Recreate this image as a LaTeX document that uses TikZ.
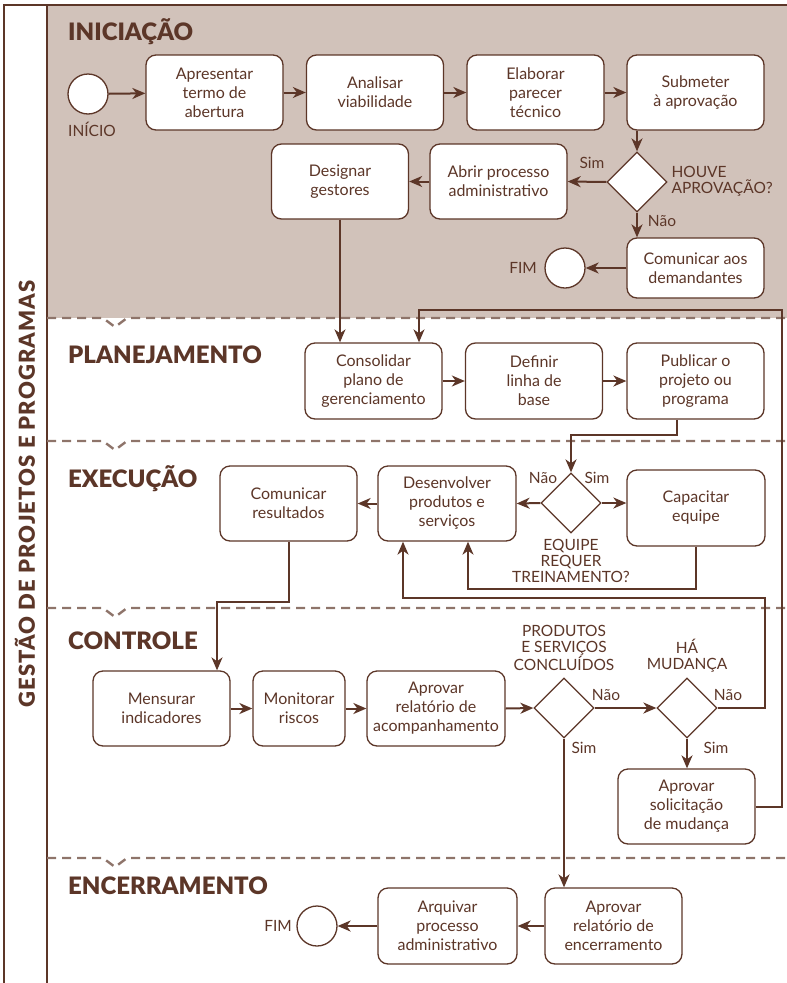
\documentclass[tikz,border=0pt]{standalone}
\usepackage{fontspec}
\setmainfont{Lato}
\newfontfamily\pesada{Lato Black}
\usetikzlibrary{arrows.meta,shapes.geometric}
\definecolor{marrom}{RGB}{92,54,40}
\definecolor{bege}{RGB}{209,194,186}
\definecolor{cinza}{RGB}{142,116,106}
\newcommand{\seta}[2]{\draw[fluxo] (#1) -- (#2);}
\newcommand{\divisa}[1]{\draw[cinza,line width=2.4,dash pattern=on 9 off 6] (47,#1) -- (103,#1) -- (115,#1+9) -- (127,#1) -- (787,#1);}

\begin{document}
\begin{tikzpicture}[x=1pt,y=-1pt,
	caixa/.style={draw=marrom,line width=1.3,fill=white,rounded corners=10,minimum width=137,minimum height=75,align=center,text=marrom,font=\fontsize{16}{19}\selectfont},
	losango/.style={draw=marrom,line width=1.3,fill=white,diamond,minimum width=60,minimum height=60,inner sep=0},
	evento/.style={draw=marrom,line width=1.3,fill=white,circle,minimum size=40,inner sep=0},
	fluxo/.style={draw=marrom,line width=2,-{Stealth[length=13,width=11,inset=4]}},
	rotulo/.style={text=marrom,align=center,font=\fontsize{15.5}{16}\selectfont},
	titulo/.style={text=marrom,anchor=base west,inner sep=0,font=\fontsize{24}{24}\selectfont\pesada}]
	\useasboundingbox (0,0) rectangle (787,983);
	\fill[bege] (47,5) rectangle (787,318);
	\draw[marrom,line width=1.5] (4,983) -- (4,5) -- (787,5);
	\draw[marrom,line width=1.5] (47,5) -- (47,983);
	\foreach \y in {318,441,608,858} {\divisa{\y}}
	\node[text=marrom,rotate=90,font=\fontsize{22}{22}\selectfont\pesada\addfontfeatures{LetterSpace=5}] (gestao) at (25,494) {GESTÃO DE PROJETOS E PROGRAMAS};

	\node[titulo] (tIniciacao) at (68,40) {INICIAÇÃO};
	\node[titulo] (tPlanejamento) at (68,363) {PLANEJAMENTO};
	\node[titulo] (tExecucao) at (68,487) {EXECUÇÃO};
	\node[titulo] (tControle) at (68,649) {CONTROLE};
	\node[titulo] (tEncerramento) at (68,894) {ENCERRAMENTO};

	\node[evento] (inicio) at (88,94) {};
	\node[rotulo] (lInicio) at (92,129) {INÍCIO};
	\node[caixa] (apresentar) at (214.5,92.5) {Apresentar\\termo de\\abertura};
	\node[caixa] (analisar) at (375,92.5) {Analisar\\viabilidade};
	\node[caixa] (elaborar) at (535.5,92.5) {Elaborar\\parecer\\técnico};
	\node[caixa] (submeter) at (695.5,92.5) {Submeter\\à aprovação};
	\node[losango] (aprovacao) at (637,182) {};
	\node[rotulo,align=left,anchor=west] (lAprovacao) at (668,181) {HOUVE\\APROVAÇÃO?};
	\node[caixa] (abrir) at (498.5,181.5) {Abrir processo\\administrativo};
	\node[caixa] (designar) at (340,181.5) {Designar\\gestores};
	\node[caixa,minimum height=60] (comunicarDem) at (695.5,268) {Comunicar aos\\demandantes};
	\node[evento] (fim1) at (565,268) {};
	\node[rotulo] (lFim1) at (523,268) {FIM};

	\node[caixa,minimum height=76] (consolidar) at (373.5,381) {Consolidar\\plano de\\gerenciamento};
	\node[caixa,minimum height=76] (definir) at (534,381) {Definir\\linha de\\base};
	\node[caixa,minimum height=76] (publicar) at (695.5,381) {Publicar o\\projeto ou\\programa};

	\node[losango] (treinamento) at (571,503) {};
	\node[rotulo] (lTreinamento) at (571,561) {EQUIPE\\REQUER\\TREINAMENTO?};
	\node[caixa,minimum width=138] (desenvolver) at (447,503.5) {Desenvolver\\produtos e\\serviços};
	\node[caixa,minimum width=138,minimum height=76] (capacitar) at (696,508) {Capacitar\\equipe};
	\node[caixa] (comunicarRes) at (288.5,503.5) {Comunicar\\resultados};

	\node[caixa] (mensurar) at (161.5,708.5) {Mensurar\\indicadores};
	\node[caixa,minimum width=92] (monitorar) at (299,708.5) {Monitorar\\riscos};
	\node[caixa,minimum width=138] (acompanhamento) at (436,708.5) {Aprovar\\relatório de\\acompanhamento};
	\node[losango] (concluidos) at (564,708) {};
	\node[rotulo] (lConcluidos) at (564,648) {PRODUTOS\\E SERVIÇOS\\CONCLUÍDOS};
	\node[losango] (mudanca) at (687,708) {};
	\node[rotulo] (lMudanca) at (687,656) {HÁ\\MUDANÇA};
	\node[caixa] (solicitacao) at (686.5,806.5) {Aprovar\\solicitação\\de mudança};

	\node[caixa,minimum height=76] (encerramento) at (613.5,926) {Aprovar\\relatório de\\encerramento};
	\node[caixa,minimum width=139,minimum height=76] (arquivar) at (447.5,926) {Arquivar\\processo\\administrativo};
	\node[evento] (fim2) at (317,926) {};
	\node[rotulo] (lFim2) at (278,926) {FIM};

	\coordinate (voltaA) at (765,598);
	\coordinate (voltaB) at (782,310);

	\seta{inicio}{apresentar}
	\seta{apresentar}{analisar}
	\seta{analisar}{elaborar}
	\seta{elaborar}{submeter}
	\seta{submeter.south -| aprovacao}{aprovacao.north}
	\seta{aprovacao.west}{abrir.east}
	\seta{abrir.west}{designar.east}
	\seta{aprovacao.south}{aprovacao.south |- comunicarDem.north}
	\seta{comunicarDem.west}{fim1.east}
	\seta{designar.south}{designar.south |- consolidar.north}
	\seta{consolidar}{definir}
	\seta{definir}{publicar}
	\draw[fluxo] ([xshift=-18.5]publicar.south) -- ++(0,15) -| (treinamento.north);
	\seta{treinamento.west}{desenvolver.east}
	\seta{treinamento.east}{treinamento.east -| capacitar.west}
	\draw[fluxo] (capacitar.south) -- ++(0,42) -| ([xshift=21]desenvolver.south);
	\seta{desenvolver.west}{comunicarRes.east}
	\draw[fluxo] (comunicarRes.south) -- ++(0,60) -| ([xshift=55.5]mensurar.north);
	\seta{mensurar}{monitorar}
	\seta{monitorar}{acompanhamento}
	\seta{acompanhamento.east}{concluidos.west}
	\seta{concluidos.east}{mudanca.west}
	\seta{mudanca.south}{mudanca.south |- solicitacao.north}
	\draw[fluxo] (mudanca.east) -| (voltaA) -| ([xshift=-44]desenvolver.south);
	\draw[fluxo] (solicitacao.east) -| (voltaB) -| ([xshift=45.5]consolidar.north);
	\seta{concluidos.south}{concluidos.south |- encerramento.north}
	\seta{encerramento.west}{arquivar.east}
	\seta{arquivar.west}{fim2.east}

	\node[rotulo] (sim1) at (592,163) {Sim};
	\node[rotulo] (nao1) at (662,221) {Não};
	\node[rotulo] (nao2) at (543,478) {Não};
	\node[rotulo] (sim2) at (597,478) {Sim};
	\node[rotulo] (nao3) at (606,695) {Não};
	\node[rotulo] (sim3) at (584,748) {Sim};
	\node[rotulo] (nao4) at (728,695) {Não};
	\node[rotulo] (sim4) at (716,748) {Sim};
\end{tikzpicture}
\end{document}
